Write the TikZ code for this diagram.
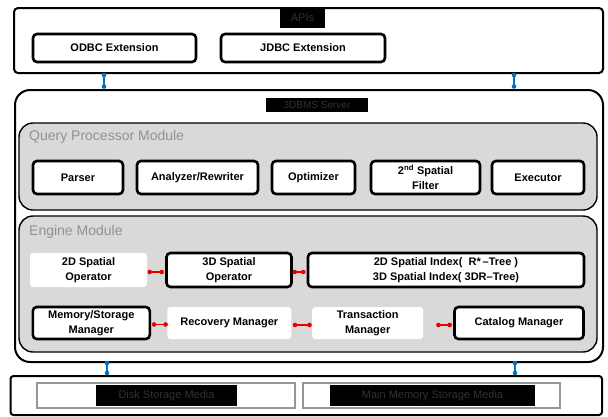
\documentclass[tikz,border=0pt]{standalone}
\usepackage{fontspec}
\setmainfont{Liberation Sans}
\usetikzlibrary{calc}
\definecolor{modfill}{RGB}{217,217,217}
\definecolor{modtext}{RGB}{145,145,145}
\definecolor{lbltext}{RGB}{50,50,50}
\definecolor{linkblue}{RGB}{0,112,192}
\definecolor{linkred}{RGB}{235,0,0}
\definecolor{mediagray}{RGB}{150,150,150}
\tikzset{
  outerbox/.style={draw=black, line width=2pt, fill=white, inner sep=0pt},
  modbox/.style={draw=black, line width=1.4pt, fill=modfill, rounded corners=14pt, inner sep=0pt},
  modtitle/.style={anchor=west, text=modtext, font=\fontsize{14}{16}\selectfont, inner sep=0pt},
  blackbox/.style={draw=black, line width=2.6pt, fill=white, rounded corners=4pt, inner sep=0pt, align=center,
    font=\fontsize{11}{15}\selectfont\bfseries},
  plainbox/.style={draw=none, fill=white, rounded corners=3pt, inner sep=0pt, align=center,
    font=\fontsize{11}{15}\selectfont\bfseries},
  darklabel/.style={fill=black, text=lbltext, inner sep=0pt, font=\fontsize{11}{13}\selectfont},
  mediabox/.style={draw=mediagray, line width=1.5pt, fill=white, inner sep=0pt},
  redline/.style={draw=linkred, line width=1.3pt},
  reddot/.style={circle, fill=linkred, minimum size=4.6pt, inner sep=0pt},
  blueline/.style={draw=linkblue, line width=1.3pt},
  bluedot/.style={circle, fill=linkblue, minimum size=4.6pt, inner sep=0pt},
}
\begin{document}
\begin{tikzpicture}[x=1pt,y=-1pt]
\useasboundingbox (0,0) rectangle (608,416);
\fill[white] (0,0) rectangle (608,416);

% APIs
\node[outerbox, rounded corners=4pt, minimum width=589pt, minimum height=65pt] (apis) at (308.5,40.5) {};
\node[darklabel, minimum width=45pt, minimum height=20pt] (apislbl) at (302.5,18) {APIs};
\node[blackbox, minimum width=163pt, minimum height=28pt] (odbc) at (114.5,48) {ODBC Extension};
\node[blackbox, minimum width=164pt, minimum height=28pt] (jdbc) at (303,48) {JDBC Extension};

% DBMS server
\node[outerbox, rounded corners=15pt, minimum width=588pt, minimum height=272pt] (dbms) at (309,226) {};
\node[darklabel, minimum width=102pt, minimum height=14pt, font=\fontsize{10}{12}\selectfont] (dbmslbl) at (317,105) {3DBMS Server};

% Query processor module
\node[modbox, minimum width=578pt, minimum height=87pt] (query) at (308,166.5) {};
\node[modtitle] (querytitle) at (29,137) {Query Processor Module};
\node[blackbox, minimum width=90pt, minimum height=33pt] (parser) at (78,177.5) {Parser};
\node[blackbox, minimum width=121pt, minimum height=33pt] (analyzer) at (197.5,177.5) {Analyzer/Rewriter};
\node[blackbox, minimum width=83pt, minimum height=33pt] (optimizer) at (313.5,177.5) {Optimizer};
\node[blackbox, minimum width=109pt, minimum height=33pt] (filter) at (425.5,177.5) {2\textsuperscript{nd} Spatial\\Filter};
\node[blackbox, minimum width=92pt, minimum height=33pt] (executor) at (538,177.5) {Executor};

% Engine module
\node[modbox, minimum width=578pt, minimum height=136pt] (engine) at (308,284) {};
\node[modtitle] (enginetitle) at (29,232) {Engine Module};
\node[plainbox, minimum width=117pt, minimum height=34pt] (op2d) at (88.5,270) {2D Spatial\\Operator};
\node[blackbox, minimum width=125pt, minimum height=34pt] (op3d) at (229,270) {3D Spatial\\Operator};
\node[blackbox, minimum width=276pt, minimum height=34pt] (index) at (446,270) {2D Spatial Index(\ \ R*\,–Tree )\\3D Spatial Index( 3DR–Tree)};
\node[blackbox, minimum width=117pt, minimum height=32pt] (mem) at (91.3,323) {Memory/Storage\\Manager};
\node[plainbox, minimum width=124pt, minimum height=32pt] (recovery) at (229.3,323) {Recovery Manager};
\node[plainbox, minimum width=111pt, minimum height=32pt] (trans) at (367.7,323) {Transaction\\Manager};
\node[blackbox, minimum width=129pt, minimum height=32pt] (catalog) at (519,323) {Catalog Manager};

\draw[redline] ($(op2d.east)+(2.5,2)$) node[reddot]{} -- ($(op3d.west)+(-3.5,2)$) node[reddot]{};
\draw[redline] ($(op3d.east)+(2,2)$) node[reddot]{} -- ($(index.west)+(-3.5,2)$) node[reddot]{};
\draw[redline] ($(mem.east)+(3,1.5)$) node[reddot]{} -- ($(recovery.west)+(-1.5,1.5)$) node[reddot]{};
\draw[redline] ($(recovery.east)+(3.5,2)$) node[reddot]{} -- ($(trans.west)+(-2.5,2)$) node[reddot]{};
\draw[redline] ($(trans.east)+(15,2)$) node[reddot]{} -- ($(catalog.west)+(-3.5,2)$) node[reddot]{};

% Storage media
\node[outerbox, rounded corners=3pt, minimum width=591.5pt, minimum height=39pt] (storage) at (306.25,395.5) {};
\node[mediabox, minimum width=258pt, minimum height=25pt] (disk) at (166,395.5) {};
\node[mediabox, minimum width=257pt, minimum height=25pt] (mainmem) at (431.5,395.5) {};
\node[darklabel, minimum width=141pt, minimum height=21pt] (disklbl) at (166.5,395.5) {Disk Storage Media};
\node[darklabel, minimum width=205pt, minimum height=21pt] (mainlbl) at (432.5,395.5) {Main Memory Storage Media};

% blue links
\coordinate (ta) at (104,0);
\coordinate (tb) at (514,0);
\coordinate (ba) at (107,0);
\coordinate (bb) at (515,0);
\draw[blueline] ($(ta |- apis.south)+(0,1)$) node[bluedot]{} -- ($(ta |- dbms.north)+(0,-2.5)$) node[bluedot]{};
\draw[blueline] ($(tb |- apis.south)+(0,1)$) node[bluedot]{} -- ($(tb |- dbms.north)+(0,-2.5)$) node[bluedot]{};
\draw[blueline] ($(ba |- dbms.south)+(0,0)$) node[bluedot]{} -- ($(ba |- storage.north)+(0,-2)$) node[bluedot]{};
\draw[blueline] ($(bb |- dbms.south)+(0,0)$) node[bluedot]{} -- ($(bb |- storage.north)+(0,-2)$) node[bluedot]{};
\end{tikzpicture}
\end{document}
